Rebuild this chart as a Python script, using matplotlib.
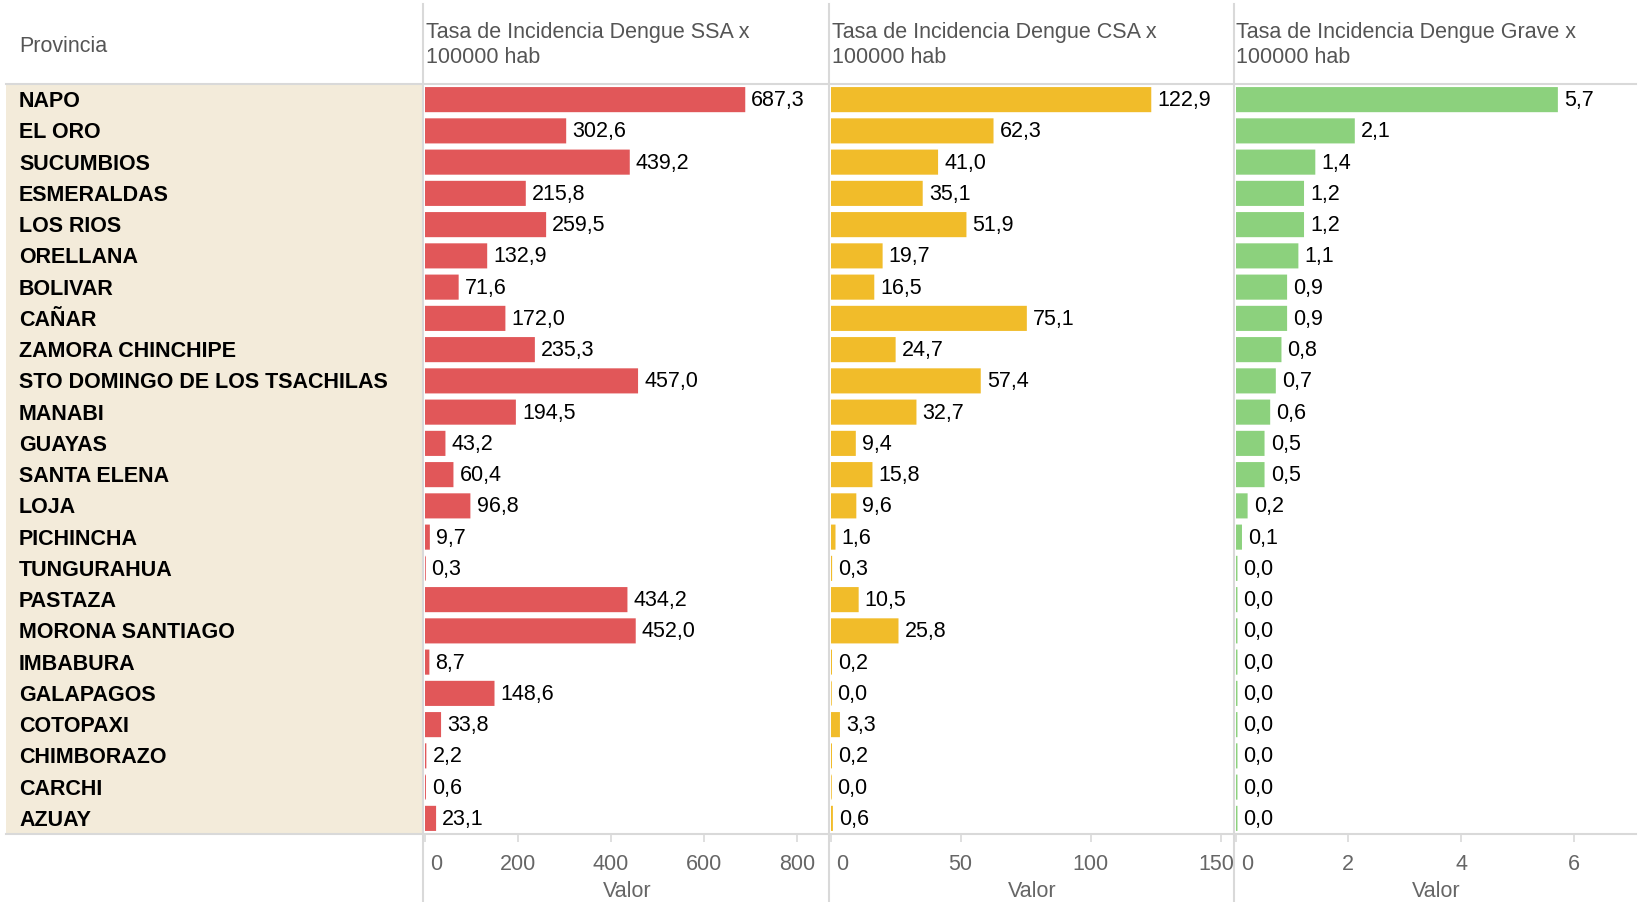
import matplotlib
matplotlib.use("Agg")
import matplotlib.pyplot as plt
from matplotlib.lines import Line2D
from matplotlib.patches import Rectangle
from matplotlib.transforms import ScaledTranslation

plt.rcParams["font.family"] = ["Liberation Sans", "DejaVu Sans"]

# data (values shown as 0,0 still draw a hairline bar)
provincias = ["NAPO", "EL ORO", "SUCUMBIOS", "ESMERALDAS", "LOS RIOS", "ORELLANA",
              "BOLIVAR", "CAÑAR", "ZAMORA CHINCHIPE", "STO DOMINGO DE LOS TSACHILAS",
              "MANABI", "GUAYAS", "SANTA ELENA", "LOJA", "PICHINCHA", "TUNGURAHUA",
              "PASTAZA", "MORONA SANTIAGO", "IMBABURA", "GALAPAGOS", "COTOPAXI",
              "CHIMBORAZO", "CARCHI", "AZUAY"]
tasa_ssa = [687.3, 302.6, 439.2, 215.8, 259.5, 132.9, 71.6, 172.0, 235.3, 457.0,
            194.5, 43.2, 60.4, 96.8, 9.7, 0.3, 434.2, 452.0, 8.7, 148.6, 33.8,
            2.2, 0.6, 23.1]
tasa_csa = [122.9, 62.3, 41.0, 35.1, 51.9, 19.7, 16.5, 75.1, 24.7, 57.4,
            32.7, 9.4, 15.8, 9.6, 1.6, 0.3, 10.5, 25.8, 0.2, 0.04, 3.3,
            0.2, 0.04, 0.6]
tasa_grave = [5.7, 2.1, 1.4, 1.2, 1.2, 1.1, 0.9, 0.9, 0.8, 0.7,
              0.6, 0.5, 0.5, 0.2, 0.1, 0.02, 0.02, 0.02, 0.02, 0.02, 0.02,
              0.02, 0.02, 0.02]

titulos = ["Tasa de Incidencia Dengue SSA x\n100000 hab",
           "Tasa de Incidencia Dengue CSA x\n100000 hab",
           "Tasa de Incidencia Dengue Grave x\n100000 hab"]
ticks = [[0, 200, 400, 600, 800], [0, 50, 100, 150], [0, 2, 4, 6]]
limites = [869, 155, 7.1]
colores = ["#e15759", "#f1bc2a", "#8cd17d"]

W, H = 1645, 903
fig = plt.figure(figsize=(W / 100, H / 100), dpi=100)

grid = "#d9d9d9"
top, bottom = 85, 835
panel_x = [(424.5, 829), (830.5, 1234), (1235.5, 1636)]


def fx(px):
    return px / W


def fy(py):
    return 1 - py / H


# beige row header band
fig.patches.append(Rectangle((fx(6), fy(bottom)), fx(423) - fx(6), fy(top) - fy(bottom),
                             transform=fig.transFigure, facecolor="#f3ebda",
                             edgecolor="none", zorder=0))

n = len(provincias)
row_h = (bottom - top) / n
for i, p in enumerate(provincias):
    fig.text(fx(19), fy(top + (i + 0.5) * row_h) - 0.001, p, fontsize=15.5,
             fontweight="bold", color="black", va="center", ha="left")

fig.text(fx(19), fy(46), "Provincia", fontsize=15.5, color="#555555", va="center")

series = [tasa_ssa, tasa_csa, tasa_grave]
for k, vals in enumerate(series):
    x0, x1 = panel_x[k]
    ax = fig.add_axes([fx(x0), fy(bottom), fx(x1) - fx(x0), fy(top) - fy(bottom)])
    ax.set_zorder(2)
    ax.barh(range(n), vals, height=0.75, color=colores[k],
            edgecolor=colores[k], linewidth=1.2, snap=False)
    ax.set_xlim(0, limites[k])
    ax.set_ylim(n - 0.5, -0.5)
    ax.set_yticks([])
    for i, v in enumerate(vals):
        ax.annotate(f"{v:.1f}".replace(".", ","), (v, i), xytext=(5, 0),
                    textcoords="offset points", fontsize=15.5, color="black",
                    va="center", ha="left")
    ax.set_xticks(ticks[k], [str(t) for t in ticks[k]])
    ax.tick_params(axis="x", length=6, color=grid, width=1.2, pad=8,
                   labelsize=15.5, labelcolor="#666666")
    lbls = ax.get_xticklabels()
    lbls[0].set_horizontalalignment("left")
    lbls[0].set_transform(lbls[0].get_transform() + ScaledTranslation(0.06, 0, fig.dpi_scale_trans))
    if k == 1:
        lbls[-1].set_transform(lbls[-1].get_transform() + ScaledTranslation(-0.05, 0, fig.dpi_scale_trans))
    ax.set_xlabel("Valor", fontsize=15.5, color="#666666", labelpad=4)
    for s in ax.spines.values():
        s.set_visible(False)
    ax.patch.set_alpha(0)
    fig.text(fx(x0 + 1), fy(45), titulos[k], fontsize=15.5, color="#555555",
             va="center", ha="left", linespacing=1.28)

# grid lines
for y in (top, bottom):
    fig.add_artist(Line2D([fx(6), fx(1636)], [fy(y), fy(y)], color=grid, lw=1.5, zorder=1))
for x in (423, 829, 1234):
    fig.add_artist(Line2D([fx(x), fx(x)], [fy(5), fy(H)], color=grid, lw=1.5, zorder=1))

fig.savefig("out.png", dpi=100)
